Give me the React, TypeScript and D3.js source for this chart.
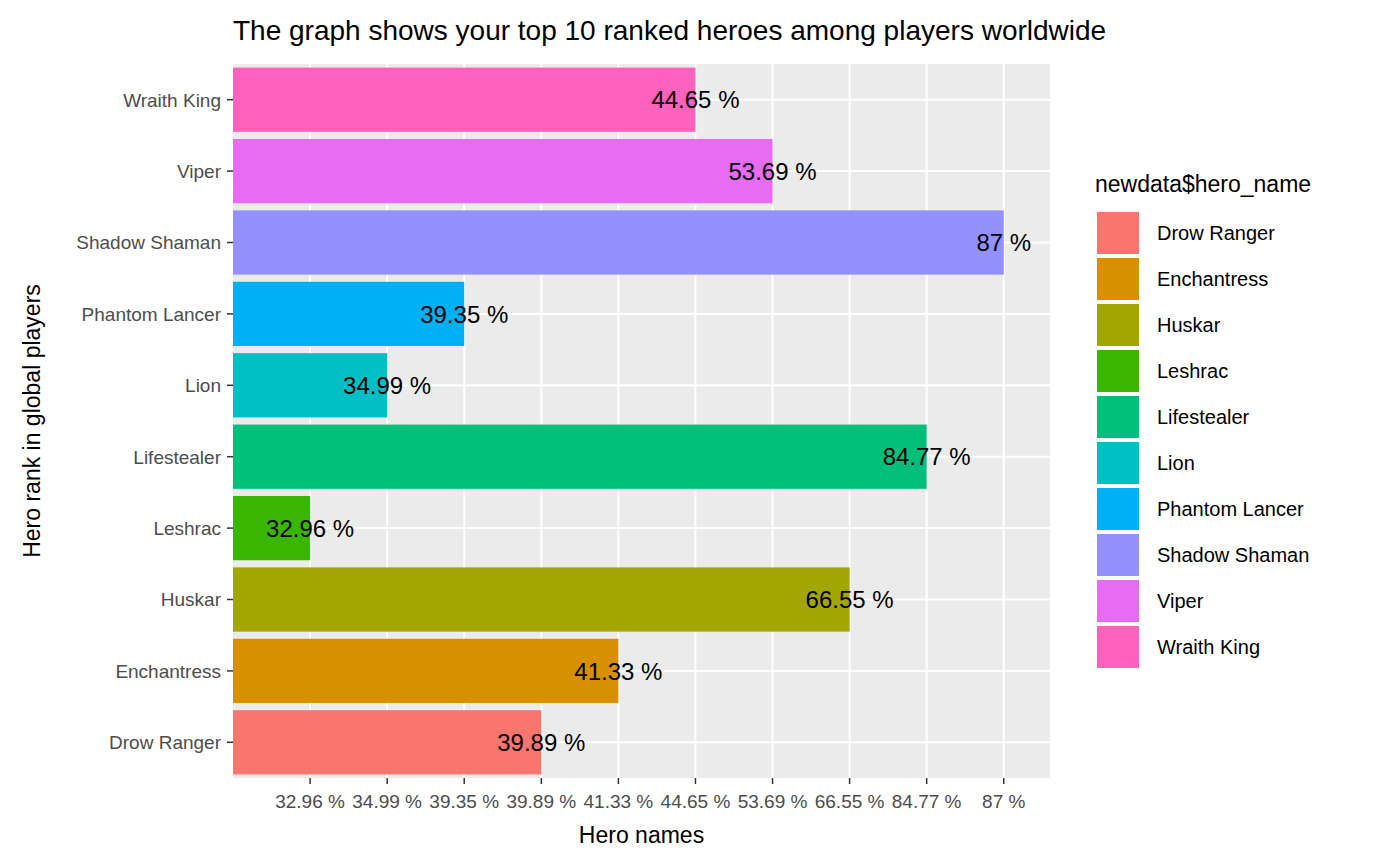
import React from "react";
import * as d3 from "d3";

const heroes = ["Drow Ranger","Enchantress","Huskar","Leshrac","Lifestealer","Lion","Phantom Lancer","Shadow Shaman","Viper","Wraith King"];
const values = [39.89,41.33,66.55,32.96,84.77,34.99,39.35,87,53.69,44.65];
const labels = ["39.89 %","41.33 %","66.55 %","32.96 %","84.77 %","34.99 %","39.35 %","87 %","53.69 %","44.65 %"];
const colors = ["#F8766D","#D89000","#A3A500","#39B600","#00BF7D","#00BFC4","#00B0F6","#9590FF","#E76BF3","#FF62BC"];

export default function App() {
  const L = 233, R = 1050, T = 64, B = 778;
  const sorted = [...values].sort((a, b) => a - b);
  const sortedLabels = sorted.map(v => labels[values.indexOf(v)]);
  const x = d3.scaleLinear().domain([0, 10.6]).range([L, R]);
  const xPos = (v: number) => x(sorted.indexOf(v) + 1);
  const y = d3.scaleBand<string>().domain([...heroes].reverse()).range([T, B]).paddingInner(0.1).paddingOuter(0.05);
  const font = "Arial, 'Liberation Sans', sans-serif";
  return (
    <svg width={1400} height={866} style={{ position: "absolute", left: 0, top: 0, fontFamily: font }}>
      <rect width={1400} height={866} fill="#fff" />
      <rect x={L} y={T} width={R - L} height={B - T} fill="#EBEBEB" />
      {sorted.map((v, i) => (
        <line key={i} x1={x(i + 1)} x2={x(i + 1)} y1={T} y2={B} stroke="#fff" strokeWidth={2} />
      ))}
      {heroes.map(h => {
        const c = y(h)! + y.bandwidth() / 2;
        return <line key={h} x1={L} x2={R} y1={c} y2={c} stroke="#fff" strokeWidth={2} />;
      })}
      {heroes.map((h, i) => (
        <rect key={h} x={L} y={y(h)} width={xPos(values[i]) - L} height={y.bandwidth()} fill={colors[i]} />
      ))}
      {heroes.map((h, i) => (
        <text key={h} x={xPos(values[i])} y={y(h)! + y.bandwidth() / 2} dy="0.36em" textAnchor="middle" fontSize={24} fill="#000">{labels[i]}</text>
      ))}
      {heroes.map(h => {
        const c = y(h)! + y.bandwidth() / 2;
        return (
          <g key={h}>
            <line x1={L - 6} x2={L} y1={c} y2={c} stroke="#333" strokeWidth={1.5} />
            <text x={L - 12} y={c} dy="0.36em" textAnchor="end" fontSize={19} fill="#4D4D4D">{h}</text>
          </g>
        );
      })}
      {sortedLabels.map((l, i) => (
        <g key={i}>
          <line x1={x(i + 1)} x2={x(i + 1)} y1={B} y2={B + 6} stroke="#333" strokeWidth={1.5} />
          <text x={x(i + 1)} y={B + 30} textAnchor="middle" fontSize={19} fill="#4D4D4D">{l}</text>
        </g>
      ))}
      <text x={(L + R) / 2} y={843} textAnchor="middle" fontSize={23}>Hero names</text>
      <text transform={`translate(40,${(T + B) / 2}) rotate(-90)`} textAnchor="middle" fontSize={23}>Hero rank in global players</text>
      <text x={233} y={40} fontSize={28}>The graph shows your top 10 ranked heroes among players worldwide</text>
      <text x={1095} y={192} fontSize={23}>newdata$hero_name</text>
      {heroes.map((h, i) => (
        <g key={h}>
          <rect x={1097} y={212 + i * 46} width={42} height={42} fill={colors[i]} />
          <text x={1157} y={233 + i * 46} dy="0.36em" fontSize={20}>{h}</text>
        </g>
      ))}
    </svg>
  );
}
